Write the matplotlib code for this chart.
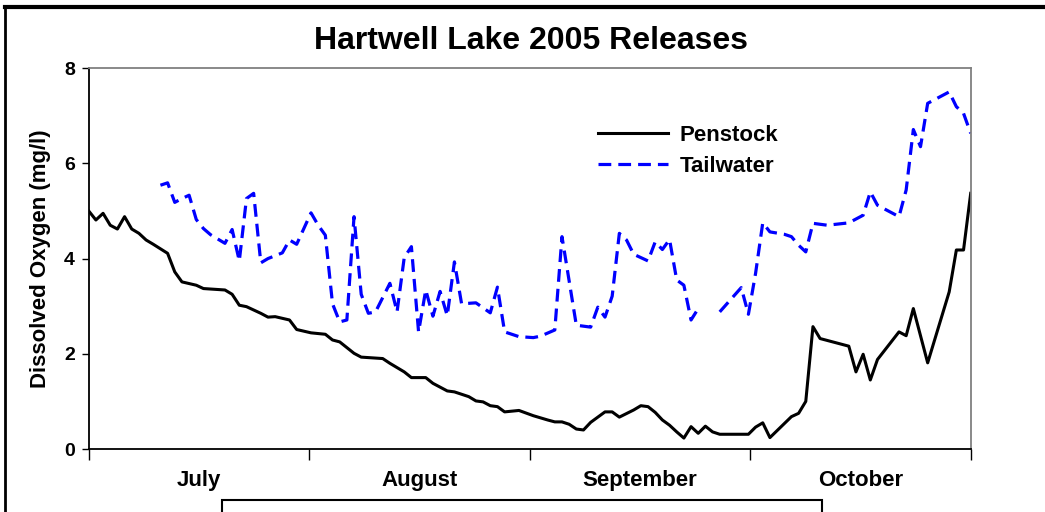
import numpy as np
import matplotlib
matplotlib.use('Agg')
import matplotlib.pyplot as plt
from matplotlib.lines import Line2D
from matplotlib.patches import Rectangle

# dias desde 1 de julho
pen_day = [0, 1, 2, 3, 4, 5, 6, 7, 8, 9, 11, 12, 13, 15, 16, 19, 20, 21, 22, 24, 25, 26, 28, 29, 31,
           33, 34, 35, 37, 38, 41, 42, 44, 45, 47, 48, 50, 51, 53, 54, 55, 56, 57, 58, 60, 62,
           64, 65, 66, 67, 68, 69, 70, 72, 73, 74, 76, 77, 78, 79, 80, 81, 82, 83, 84, 85, 86, 87, 88,
           92, 93, 94, 95, 98, 99, 100, 101, 102, 106, 107, 108, 109, 110, 113, 114, 115, 117,
           120, 121, 122, 123]
pen_val = [5.00, 4.81, 4.95, 4.70, 4.62, 4.88, 4.62, 4.53, 4.39, 4.30, 4.11, 3.72, 3.51, 3.44, 3.37,
           3.34, 3.25, 3.02, 2.99, 2.85, 2.77, 2.78, 2.71, 2.51, 2.44, 2.41, 2.29, 2.25, 2.01, 1.93,
           1.90, 1.80, 1.62, 1.50, 1.50, 1.38, 1.22, 1.20, 1.10, 1.01, 0.99, 0.91, 0.89, 0.78, 0.81,
           0.70, 0.61, 0.57, 0.57, 0.52, 0.42, 0.40, 0.56, 0.78, 0.78, 0.67, 0.82, 0.91, 0.89, 0.77,
           0.61, 0.50, 0.36, 0.23, 0.47, 0.33, 0.48, 0.36, 0.31, 0.31, 0.46, 0.55, 0.24, 0.68, 0.75,
           1.00, 2.57, 2.32, 2.16, 1.62, 1.99, 1.45, 1.88, 2.46, 2.38, 2.95, 1.81, 3.30, 4.18, 4.18,
           5.37]

tw_day = [10, 11, 12, 13, 14, 15, 16, 17, 19, 20, 21, 22, 23, 24, 25, 27, 28, 29, 31, 32, 33, 34,
          35, 36, 37, 38, 39, 40, 42, 43, 44, 45, 46, 47, 48, 49, 50, 51, 52, 54, 56, 57, 58, 60,
          62, 63, 65, 66, 68, 69, 70, 71, 72, 73, 74, 75, 76, 78, 79, 80, 81, 82, 83, 84, 85, 86,
          88, 91, 92, 93, 94, 95, 97, 98, 99, 100, 101, 103, 106, 108, 109, 110, 113, 114, 115,
          116, 117, 120, 121, 122, 123]
tw_val = [5.54, 5.59, 5.18, 5.26, 5.33, 4.82, 4.63, 4.50, 4.32, 4.61, 3.95, 5.26, 5.37, 3.91, 4.00,
          4.12, 4.39, 4.30, 4.96, 4.70, 4.49, 3.05, 2.67, 2.71, 4.88, 3.25, 2.85, 2.88, 3.48, 2.88,
          4.02, 4.25, 2.46, 3.34, 2.79, 3.31, 2.80, 3.93, 3.05, 3.07, 2.86, 3.40, 2.46, 2.36, 2.34,
          2.37, 2.50, 4.46, 2.60, 2.58, 2.56, 2.98, 2.77, 3.21, 4.53, 4.39, 4.09, 3.95, 4.35, 4.19,
          4.40, 3.55, 3.44, 2.71, 2.95, np.nan, 2.88, 3.39, 2.83, 3.69, 4.75, 4.56, 4.51, 4.46, 4.28,
          4.14, 4.74, 4.70, 4.75, 4.91, 5.40, 5.12, 4.88, 5.44, 6.71, 6.35, 7.26, 7.50, 7.19, 7.05,
          6.63]

month_ticks = [0, 30.75, 61.5, 92.25, 123]
month_names = ['July', 'August', 'September', 'October']
y_ticks = [0, 2, 4, 6, 8]

plt.rcParams['font.family'] = ['Liberation Sans', 'DejaVu Sans']
plt.rcParams['font.weight'] = 'bold'

fig = plt.figure(figsize=(10.45, 5.12), dpi=100)
ax = fig.add_axes([0.0849, 0.123, 0.844, 0.744])

ax.plot(pen_day, pen_val, color='black', lw=2.2, label='Penstock')
ax.plot(tw_day, tw_val, color='#0000ff', lw=2.3, linestyle=(0, (4, 2.2)), label='Tailwater')

ax.set_xlim(0, 123)
ax.set_ylim(0, 8)
ax.set_yticks(y_ticks)
ax.set_yticklabels([str(v) for v in y_ticks], fontsize=14, fontweight='bold')
ax.set_xticks(month_ticks)
ax.set_xticklabels([])
# nomes dos meses no meio de cada intervalo
mids = [(month_ticks[i] + month_ticks[i + 1]) / 2 for i in range(4)]
ax.set_xticks(mids, minor=True)
ax.set_xticklabels(month_names, minor=True, fontsize=16, fontweight='bold')
ax.tick_params(axis='x', which='minor', length=0, pad=15)
ax.tick_params(axis='x', which='major', length=8, width=1, direction='out')
ax.tick_params(axis='y', length=5, width=1, direction='out', pad=5)

ax.spines['top'].set_color('#808080')
ax.spines['right'].set_color('#808080')
for s in ax.spines.values():
    s.set_linewidth(1.3)

ax.set_ylabel('Dissolved Oxygen (mg/l)', fontsize=16, fontweight='bold', labelpad=9)
fig.text(0.508, 0.919, 'Hartwell Lake 2005 Releases', ha='center', va='center',
         fontsize=23, fontweight='bold')

leg = ax.legend(loc='upper left', bbox_to_anchor=(0.577, 0.85), frameon=False,
                fontsize=16, handlelength=3.15, handletextpad=0.55, labelspacing=0.42,
                borderpad=0, borderaxespad=0)
for t in leg.get_texts():
    t.set_fontweight('bold')

# moldura externa e caixa cortada embaixo
fig.add_artist(Line2D([5 / 1045, 1], [1 - 7 / 512, 1 - 7 / 512], transform=fig.transFigure,
                      color='black', lw=3))
fig.add_artist(Line2D([5 / 1045, 5 / 1045], [0, 1 - 7 / 512], transform=fig.transFigure,
                      color='black', lw=2))
fig.add_artist(Rectangle((222 / 1045, -0.1), 600 / 1045, 0.1 + 1 - 500 / 512,
                         transform=fig.transFigure, fill=False, edgecolor='black', lw=1.5))

fig.savefig('out.png', dpi=100)
